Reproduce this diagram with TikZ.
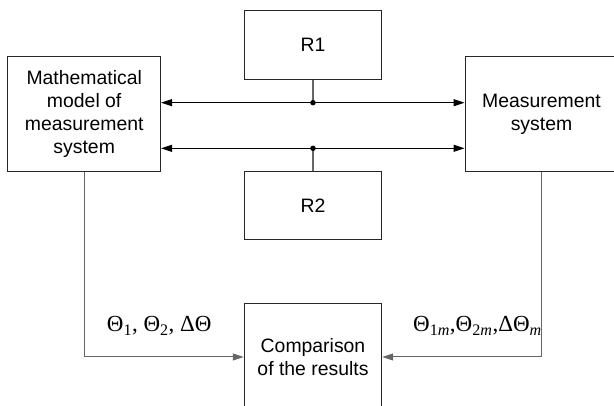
\documentclass[tikz,border=0pt]{standalone}
\usepackage{fontspec}
\setmainfont{Liberation Sans}
\newfontfamily\tnr{Liberation Serif}
\usetikzlibrary{arrows.meta}
\tikzset{
  blk/.style={draw=black!85, line width=1pt, align=center, inner sep=0pt,
    font=\fontsize{19.4}{23.2}\selectfont},
  arr/.style={line width=1pt, -{Triangle[length=11pt,width=7pt]}},
  feed/.style={draw=black!60, line width=1.1pt},
  lbl/.style={inner sep=0pt, anchor=base west, font=\tnr\fontsize{23}{26}\selectfont},
  jdot/.style={circle, fill=black, inner sep=0pt, minimum size=5.5pt}
}
\begin{document}
\begin{tikzpicture}[x=1pt,y=-1pt]
\path[use as bounding box, clip] (0,0) rectangle (614,406);
\node[blk, minimum width=152.7pt, minimum height=114.6pt] (L) at (84.2,114)
  {Mathematical\\model of\\measurement\\system};
\node[blk, minimum width=153pt, minimum height=114.6pt] (M) at (541.5,114)
  {Measurement\\system};
\node[blk, minimum width=137.4pt, minimum height=69.3pt] (R1) at (313,45.3) {R1};
\node[blk, minimum width=137.4pt, minimum height=68.7pt] (R2) at (313,205.6) {R2};
\node[blk, minimum width=137.4pt, minimum height=106pt] (C) at (313,357)
  {Comparison\\of the results};
\coordinate (J1) at (313,102.7);
\coordinate (J2) at (313,148.3);
\draw[feed] (R1.south) -- (J1);
\draw[feed] (J2) -- (R2.north);
\draw[arr] (J1) -- (J1 -| L.east);
\draw[arr] (J1) -- (J1 -| M.west);
\draw[arr] (J2) -- (J2 -| L.east);
\draw[arr] (J2) -- (J2 -| M.west);
\node[jdot] (D1) at (J1) {};
\node[jdot] (D2) at (J2) {};
\draw[arr, draw=black!60] (L.south) |- (C.west);
\draw[arr, draw=black!60] (M.south) |- (C.east);
\node[lbl] (T1) at (106.7,332) {Θ\textsubscript{1}, Θ\textsubscript{2}, ΔΘ};
\node[lbl] (T2) at (413,332) {Θ\textsubscript{1\textit{m}},Θ\textsubscript{2\textit{m}},ΔΘ\textsubscript{\textit{m}}};
\end{tikzpicture}
\end{document}
